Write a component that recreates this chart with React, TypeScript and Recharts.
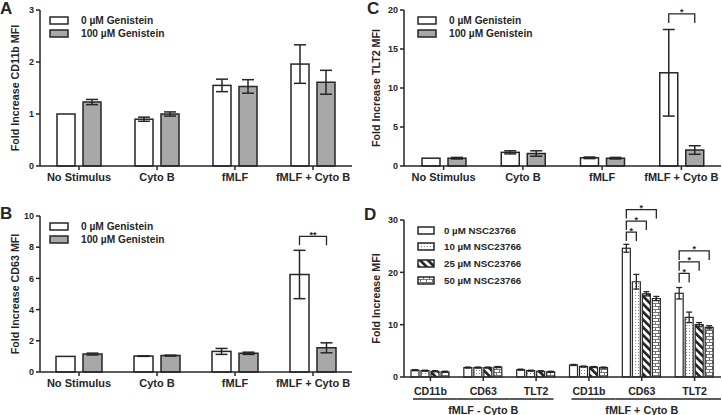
import React from 'react';
import { BarChart, Bar, XAxis, YAxis, ErrorBar, Legend } from 'recharts';

const INK = '#262626';
const GREY = '#a8a8a8';

// genistein panels (A, B, C)
const genisteinCats = ['No Stimulus', 'Cyto B', 'fMLF', 'fMLF + Cyto B'];

const cd11bCtrl = [1.0, 0.9, 1.55, 1.96];
const cd11bCtrlErr = [0, 0.04, 0.12, 0.37];
const cd11bGen = [1.23, 1.0, 1.53, 1.61];
const cd11bGenErr = [0.05, 0.04, 0.13, 0.23];

const cd63Ctrl = [1.0, 1.02, 1.32, 6.25];
const cd63CtrlErr = [0, 0.02, 0.19, 1.55];
const cd63Gen = [1.15, 1.05, 1.2, 1.55];
const cd63GenErr = [0.06, 0.03, 0.07, 0.32];

const tlt2Ctrl = [1.0, 1.75, 1.05, 11.95];
const tlt2CtrlErr = [0, 0.2, 0.1, 5.55];
const tlt2Gen = [1.0, 1.6, 1.0, 2.05];
const tlt2GenErr = [0.1, 0.35, 0.1, 0.55];

// NSC23766 panel (D)
const nscMarkers = ['CD11b', 'CD63', 'TLT2', 'CD11b', 'CD63', 'TLT2'];
const nscGroups = ['fMLF - Cyto B', 'fMLF - Cyto B', 'fMLF - Cyto B', 'fMLF + Cyto B', 'fMLF + Cyto B', 'fMLF + Cyto B'];
const nsc0 = [1.3, 1.8, 1.4, 2.3, 24.6, 16.0];
const nsc0Err = [0.1, 0.1, 0.1, 0.1, 0.75, 1.1];
const nsc10 = [1.2, 1.8, 1.2, 2.0, 18.2, 11.4];
const nsc10Err = [0.1, 0.1, 0.1, 0.1, 1.4, 1.0];
const nsc25 = [1.1, 1.8, 1.1, 1.9, 15.9, 10.0];
const nsc25Err = [0.1, 0.1, 0.1, 0.1, 0.4, 0.4];
const nsc50 = [1.0, 1.9, 1.0, 1.8, 15.0, 9.5];
const nsc50Err = [0.1, 0.1, 0.1, 0.1, 0.4, 0.3];

type Sig = { cat: number; to: number; at: number; mark: string };

const sigB: Sig[] = [{ cat: 3, to: 1, at: 8.7, mark: '**' }];
const sigC: Sig[] = [{ cat: 3, to: 1, at: 19.5, mark: '*' }];
const sigD: Sig[] = [
  { cat: 4, to: 1, at: 27.7, mark: '*' },
  { cat: 4, to: 2, at: 29.8, mark: '*' },
  { cat: 4, to: 3, at: 32.0, mark: '*' },
  { cat: 5, to: 1, at: 19.8, mark: '*' },
  { cat: 5, to: 2, at: 22.0, mark: '*' },
  { cat: 5, to: 3, at: 24.1, mark: '*' },
];

const genLegend = [
  { label: '0 \u00b5M Genistein', fill: '#fff' },
  { label: '100 \u00b5M Genistein', fill: GREY },
];
const nscLegend = [
  { label: '0 \u00b5M NSC23766', fill: '#fff' },
  { label: '10 \u00b5M NSC23766', fill: 'url(#nscDots)' },
  { label: '25 \u00b5M NSC23766', fill: 'url(#nscHatch)' },
  { label: '50 \u00b5M NSC23766', fill: 'url(#nscBrick)' },
];

const buildGen = (ctrl: number[], ctrlErr: number[], gen: number[], genErr: number[]) =>
  genisteinCats.map((name, i) => ({ idx: i, name, ctrl: ctrl[i], ctrlErr: ctrlErr[i], gen: gen[i], genErr: genErr[i] }));

const nscData = nscMarkers.map((name, i) => ({
  idx: i,
  name,
  group: nscGroups[i],
  n0: nsc0[i], n0Err: nsc0Err[i],
  n10: nsc10[i], n10Err: nsc10Err[i],
  n25: nsc25[i], n25Err: nsc25Err[i],
  n50: nsc50[i], n50Err: nsc50Err[i],
}));

const axisStyle = { stroke: INK, strokeWidth: 1.5 };
const yTick = { fontSize: 9, fill: INK, fontWeight: 700 };
const LEG = 9;

// first bar of a category also carries the significance brackets
function withBrackets(key: string, sigs: Sig[], step: number) {
  return (p: any) => {
    const { x, y, width, height, fill, stroke, strokeWidth, payload } = p;
    const v = payload[key];
    const base = y + height;
    const toPx = (val: number) => base - (val / v) * height;
    const x0 = x + width / 2;
    return (
      <g>
        <rect x={x} y={y} width={width} height={height} fill={fill} stroke={stroke} strokeWidth={strokeWidth} />
        {sigs.filter((s) => s.cat === payload.idx).map((s, k) => {
          const x1 = x0 + s.to * step;
          const yy = toPx(s.at);
          return (
            <g key={k}>
              <path d={`M${x0},${yy + LEG}V${yy}H${x1}V${yy + LEG}`} fill="none" stroke={INK} strokeWidth={1.3} />
              <text x={(x0 + x1) / 2} y={yy + 1.5} textAnchor="middle" fontSize={9} fontWeight={700} fill={INK}>{s.mark}</text>
            </g>
          );
        })}
      </g>
    );
  };
}

function KeyBox({ items, sw, sh, rowH, gap, fontSize }: any) {
  return (
    <div>
      {items.map((it: any) => (
        <div key={it.label} style={{ display: 'flex', alignItems: 'center', height: rowH }}>
          <svg width={sw + 2} height={sh + 2} style={{ display: 'block' }}>
            <rect x={1} y={1} width={sw} height={sh} fill={it.fill} stroke={INK} strokeWidth={1.5} />
          </svg>
          <span style={{ marginLeft: gap, fontSize, fontWeight: 700, color: INK, whiteSpace: 'nowrap' }}>{it.label}</span>
        </div>
      ))}
    </div>
  );
}

function GenPanel(props: any) {
  const { left, top, width, height, margin, yw, axisLabel, domain, ticks, data, sigs, barSize, barGap, legendAt } = props;
  return (
    <div style={{ position: 'absolute', left, top }}>
      <BarChart width={width} height={height} data={data} margin={margin} barSize={barSize} barGap={barGap}>
        <XAxis dataKey="name" interval={0} height={height - margin.top - margin.bottom - 156} tick={{ fontSize: 11, fill: INK, fontWeight: 700 }} tickSize={4} tickMargin={3} axisLine={axisStyle} tickLine={axisStyle} />
        <YAxis width={yw} domain={domain} ticks={ticks} tick={yTick} tickSize={4} tickMargin={2} axisLine={axisStyle} tickLine={axisStyle}
          label={{ value: axisLabel, angle: -90, position: 'insideLeft', offset: 15, style: { textAnchor: 'middle', fontSize: 10.7, fontWeight: 700, fill: INK } }} />
        <Legend verticalAlign="middle" align="center" layout="horizontal" wrapperStyle={{ left: legendAt[0], top: legendAt[1], width: 'auto', height: 'auto' }}
          content={() => <KeyBox items={genLegend} sw={18} sh={7} rowH={13.3} gap={12} fontSize={10.2} />} />
        <Bar dataKey="ctrl" fill="#fff" stroke={INK} strokeWidth={1.5} isAnimationActive={false} shape={withBrackets('ctrl', sigs, barSize + barGap)}>
          <ErrorBar dataKey="ctrlErr" width={6} stroke={INK} strokeWidth={1.5} />
        </Bar>
        <Bar dataKey="gen" fill={GREY} stroke={INK} strokeWidth={1.5} isAnimationActive={false}>
          <ErrorBar dataKey="genErr" width={6} stroke={INK} strokeWidth={1.5} />
        </Bar>
      </BarChart>
    </div>
  );
}

// D panel geometry (extra top room so the highest bracket star fits)
const D_TOP = 195;
const D_W = 361;
const D_H = 220;
const D_MARGIN = { top: 25, right: 1, left: 0, bottom: 0 };
const D_YW = 43;
const D_PLOT_H = 157;
const D_BAND = (D_W - D_YW - D_MARGIN.right) / nscMarkers.length;
const D_AXIS_Y = D_MARGIN.top + D_PLOT_H;

function NscTick(p: any) {
  const { x, payload } = p;
  const i = payload.index;
  const g = nscGroups[i];
  const first = i === 0 || nscGroups[i - 1] !== g;
  const last = i === nscGroups.length - 1 || nscGroups[i + 1] !== g;
  const atEnd = i === nscGroups.length - 1;
  const x1 = x - D_BAND / 2 + (first ? 9 : 0);
  const x2 = x + D_BAND / 2 - (last && !atEnd ? 9 : 0);
  const n = nscGroups.filter((v) => v === g).length;
  return (
    <g>
      <text x={x} y={D_AXIS_Y + 17.5} textAnchor="middle" fontSize={10.6} fontWeight={700} fill={INK}>{payload.value}</text>
      <line x1={x1} x2={x2} y1={D_AXIS_Y + 22} y2={D_AXIS_Y + 22} stroke={INK} strokeWidth={1.3} />
      {first && (
        <text x={x + ((n - 1) / 2) * D_BAND} y={D_AXIS_Y + 36.5} textAnchor="middle" fontSize={10.8} fontWeight={700} fill={INK}>{g}</text>
      )}
    </g>
  );
}

function NscPanel() {
  const step = 10;
  return (
    <div style={{ position: 'absolute', left: 361, top: D_TOP }}>
      <BarChart width={D_W} height={D_H} data={nscData} margin={D_MARGIN} barSize={8} barGap={2}>
        <XAxis dataKey="name" interval={0} height={D_H - D_MARGIN.top - D_PLOT_H} tick={NscTick} tickSize={4} axisLine={axisStyle} tickLine={axisStyle} />
        <YAxis width={D_YW} domain={[0, 30]} ticks={[0, 10, 20, 30]} tick={yTick} tickSize={4} tickMargin={2} axisLine={axisStyle} tickLine={axisStyle}
          label={{ value: 'Fold Increase MFI', angle: -90, position: 'insideLeft', offset: 15, style: { textAnchor: 'middle', fontSize: 10.7, fontWeight: 700, fill: INK } }} />
        <Legend verticalAlign="middle" align="center" layout="horizontal" wrapperStyle={{ left: 56, top: 27, width: 'auto', height: 'auto' }}
          content={() => <KeyBox items={nscLegend} sw={16} sh={7} rowH={16.6} gap={9} fontSize={9.7} />} />
        <Bar dataKey="n0" fill="#fff" stroke={INK} strokeWidth={1.2} isAnimationActive={false} shape={withBrackets('n0', sigD, step)}>
          <ErrorBar dataKey="n0Err" width={3} stroke={INK} strokeWidth={1.3} />
        </Bar>
        <Bar dataKey="n10" fill="url(#nscDots)" stroke={INK} strokeWidth={1.2} isAnimationActive={false}>
          <ErrorBar dataKey="n10Err" width={3} stroke={INK} strokeWidth={1.3} />
        </Bar>
        <Bar dataKey="n25" fill="url(#nscHatch)" stroke={INK} strokeWidth={1.2} isAnimationActive={false}>
          <ErrorBar dataKey="n25Err" width={3} stroke={INK} strokeWidth={1.3} />
        </Bar>
        <Bar dataKey="n50" fill="url(#nscBrick)" stroke={INK} strokeWidth={1.2} isAnimationActive={false}>
          <ErrorBar dataKey="n50Err" width={3} stroke={INK} strokeWidth={1.3} />
        </Bar>
      </BarChart>
    </div>
  );
}

function PatternDefs() {
  return (
    <svg width={0} height={0} style={{ position: 'absolute' }}>
      <defs>
        <pattern id="nscDots" width={3} height={3} patternUnits="userSpaceOnUse">
          <rect width={3} height={3} fill="#fff" />
          <rect x={1} y={1} width={1} height={1} fill="#8c8c8c" />
        </pattern>
        <pattern id="nscHatch" width={5.5} height={5.5} patternUnits="userSpaceOnUse" patternTransform="rotate(-45)">
          <rect width={5.5} height={5.5} fill="#fff" />
          <rect width={2.6} height={5.5} fill="#1e1e1e" />
        </pattern>
        <pattern id="nscBrick" width={6} height={6} patternUnits="userSpaceOnUse">
          <rect width={6} height={6} fill="#fff" />
          <path d="M0,0.5H6M0,3.5H6M0.5,0.5V3.5M3.5,3.5V6.5" stroke="#777" strokeWidth={1} fill="none" />
        </pattern>
      </defs>
    </svg>
  );
}

const Letter = ({ x, y, t }: any) => (
  <div style={{ position: 'absolute', left: x, top: y, fontSize: 17, fontWeight: 700, lineHeight: '17px', color: INK }}>{t}</div>
);

export default function App() {
  return (
    <div style={{ position: 'absolute', left: 0, top: 0, width: 722, height: 415, background: '#fff', overflow: 'hidden', fontFamily: '"Liberation Sans", Arial, sans-serif', fontWeight: 700 }}>
      <PatternDefs />
      <GenPanel left={0} top={0} width={361} height={205} margin={{ top: 10, right: 9, left: 0, bottom: 0 }} yw={40}
        axisLabel="Fold Increase CD11b MFI" domain={[0, 3]} ticks={[0, 1, 2, 3]}
        data={buildGen(cd11bCtrl, cd11bCtrlErr, cd11bGen, cd11bGenErr)} sigs={[]} barSize={18} barGap={8} legendAt={[49, 14]} />
      <GenPanel left={0} top={205} width={361} height={210} margin={{ top: 11, right: 9, left: 0, bottom: 0 }} yw={40}
        axisLabel="Fold Increase CD63 MFI" domain={[0, 10]} ticks={[0, 2, 4, 6, 8, 10]}
        data={buildGen(cd63Ctrl, cd63CtrlErr, cd63Gen, cd63GenErr)} sigs={sigB} barSize={19} barGap={8} legendAt={[49, 15]} />
      <GenPanel left={361} top={0} width={361} height={205} margin={{ top: 10, right: 1, left: 0, bottom: 0 }} yw={43}
        axisLabel="Fold Increase TLT2 MFI" domain={[0, 20]} ticks={[0, 5, 10, 15, 20]}
        data={buildGen(tlt2Ctrl, tlt2CtrlErr, tlt2Gen, tlt2GenErr)} sigs={sigC} barSize={18} barGap={8} legendAt={[56, 14]} />
      <NscPanel />
      <Letter x={0} y={0} t="A" />
      <Letter x={0} y={205} t="B" />
      <Letter x={367} y={0} t="C" />
      <Letter x={364} y={206} t="D" />
    </div>
  );
}
